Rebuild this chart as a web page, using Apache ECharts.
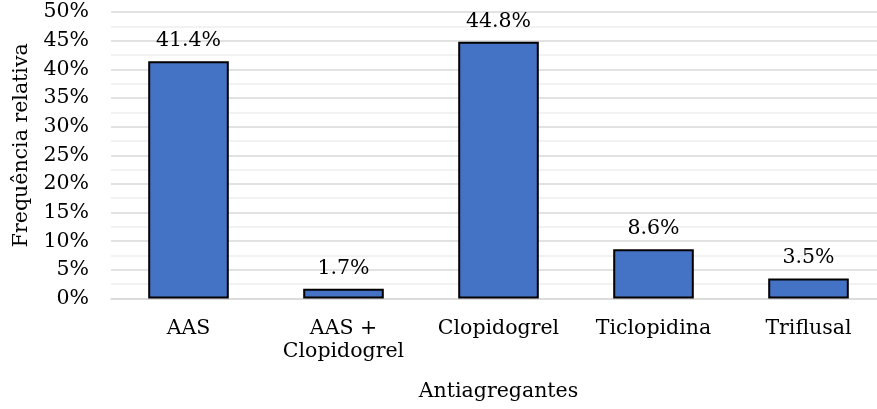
<!DOCTYPE html>
<html>
<head>
<meta charset="utf-8">
<script src="https://cdn.jsdelivr.net/npm/echarts@6/dist/echarts.min.js"></script>
<style>html,body{margin:0;padding:0;background:#fff;overflow:hidden;width:877px;height:409px;}#c{width:886px;height:409px;}</style>
</head>
<body>
<div id="c"></div>
<script>
const categories = ['AAS', 'AAS +\nClopidogrel', 'Clopidogrel', 'Ticlopidina', 'Triflusal'];
const values = [41.4, 1.7, 44.8, 8.6, 3.5];
const yTicks = { min: 0, max: 50, interval: 5 };
const xName = 'Antiagregantes';
const yName = 'Frequência relativa';

const FONT = 'DejaVu Serif';
const FS = 20.5;
const chart = echarts.init(document.getElementById('c'), null, { renderer: 'canvas' });
chart.setOption({
  animation: false,
  textStyle: { fontFamily: FONT, color: '#000' },
  grid: { left: 111, right: 0, top: 12, bottom: 110.5, containLabel: false },
  xAxis: {
    type: 'category',
    data: categories,
    name: xName,
    nameLocation: 'middle',
    nameGap: 83,
    nameTextStyle: { fontFamily: FONT, fontSize: FS, color: '#000' },
    axisLine: { show: true, lineStyle: { color: '#d9d9d9', width: 1.5 } },
    axisTick: { show: false },
    axisLabel: { fontFamily: FONT, fontSize: FS, color: '#000', margin: 19, lineHeight: 23, interval: 0 }
  },
  yAxis: {
    type: 'value',
    min: yTicks.min, max: yTicks.max, interval: yTicks.interval,
    name: yName,
    nameLocation: 'middle',
    nameGap: 77,
    nameTextStyle: { fontFamily: FONT, fontSize: FS, color: '#000', padding: [0, 0, 0, 20] },
    axisLine: { show: false },
    axisTick: { show: false },
    axisLabel: { fontFamily: FONT, fontSize: FS, color: '#000', margin: 22, formatter: '{value}%' },
    splitLine: { show: true, lineStyle: { color: '#d9d9d9', width: 1.5 } },
    minorTick: { show: false, splitNumber: 2 },
    minorSplitLine: { show: true, lineStyle: { color: '#eeeeee', width: 1.5 } }
  },
  series: [{
    type: 'bar',
    data: values,
    barWidth: '52%',
    itemStyle: { color: '#4472C4', borderColor: '#000', borderWidth: 2 },
    label: {
      show: true, position: 'top', distance: 10,
      fontFamily: FONT, fontSize: FS, color: '#000',
      formatter: p => p.value.toFixed(1) + '%'
    }
  }]
});
</script>
</body>
</html>
